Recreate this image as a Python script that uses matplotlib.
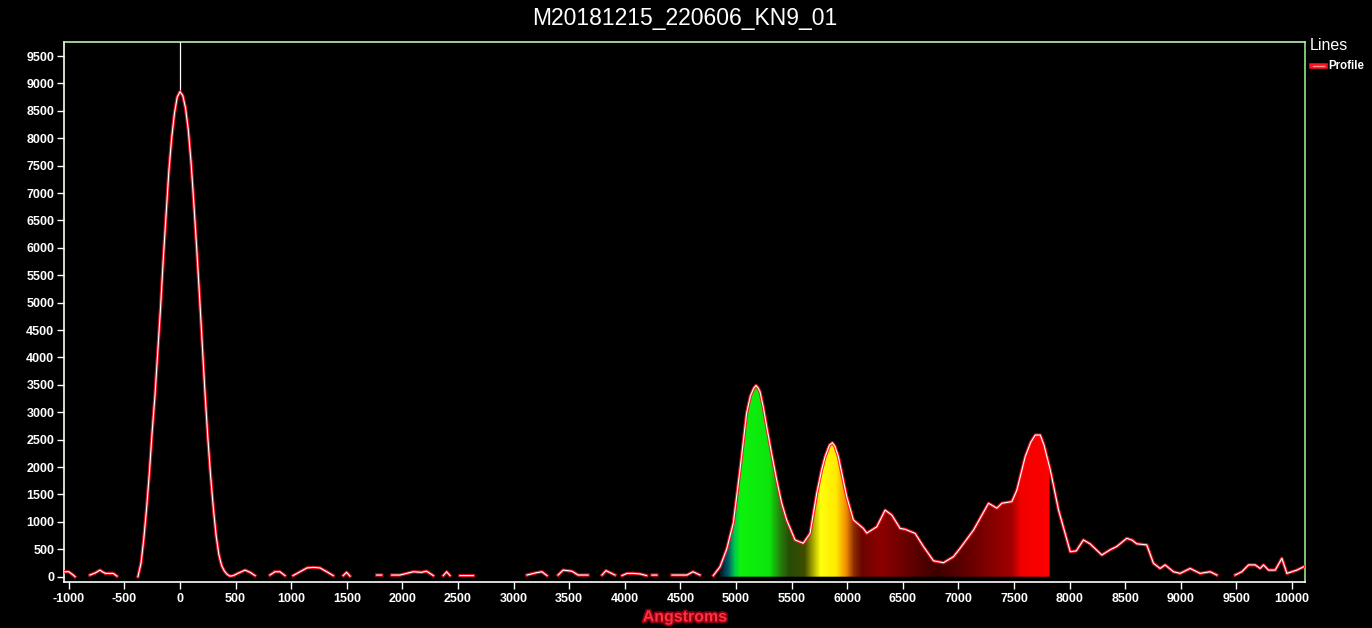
import numpy as np
import matplotlib
matplotlib.use("Agg")
import matplotlib.pyplot as plt
import matplotlib.patheffects as pe
from matplotlib.lines import Line2D

nan = np.nan

# ---- data ----
wavelength = [
    -1043, -1000, -960, -944, -900,
    -810, -760, -720, -690, -670, -600, -567, -470,
    -378, -350, -325, -300, -275, -250, -225, -200, -175, -150, -125, -100, -75, -50, -25,
    0, 25, 50, 75, 100, 125, 150, 175, 200, 225, 250, 275, 300, 325, 350, 375, 400, 425, 450,
    480, 530, 585, 630, 675, 740,
    809, 854, 899, 944, 980,
    1017, 1080, 1142, 1200, 1259, 1320, 1378, 1420,
    1468, 1498, 1529, 1650,
    1769, 1814, 1860,
    1904, 1978, 2040, 2098, 2173, 2218, 2278, 2320,
    2368, 2398, 2428, 2470,
    2518, 2638, 2900,
    3120, 3200, 3255, 3300, 3350,
    3400, 3445, 3525, 3580, 3670, 3730,
    3795, 3831, 3912, 3940,
    3975, 4020, 4080, 4137, 4196, 4220,
    4244, 4289, 4350,
    4424, 4559, 4613, 4676, 4740,
    4796, 4856, 4916, 4976, 5036, 5096, 5130, 5160, 5180, 5200, 5216, 5245, 5276, 5320,
    5366, 5410, 5456, 5531,
    5605, 5666, 5726, 5770, 5801, 5840, 5867, 5890, 5921, 5996, 6056, 6146, 6176, 6266,
    6341, 6401,
    6476, 6521, 6611, 6686, 6776, 6866, 6956, 7016, 7136, 7271, 7346, 7391, 7481, 7526,
    7601, 7650, 7691, 7736, 7770, 7826, 7901, 8006, 8060, 8124, 8184, 8290, 8364, 8424,
    8514, 8559,
    8604, 8694, 8754, 8814, 8859, 8934, 8994, 9084, 9174, 9264, 9324, 9400,
    9489, 9549, 9609, 9669, 9714, 9744, 9789, 9849, 9909, 9954, 10044, 10104,
]
intensity = [
    90, 90, 30, 0, nan,
    30, 70, 120, 80, 60, 60, 10, nan,
    0, 250, 700, 1250, 1900, 2650, 3300, 4100, 4900, 5800, 6600, 7400, 8000, 8450, 8750,
    8850, 8780, 8550, 8150, 7550, 6800, 6000, 5150, 4250, 3350, 2550, 1850, 1250, 750, 400, 200, 100, 40, 10,
    20, 70, 120, 80, 20, nan,
    30, 90, 90, 20, nan,
    20, 90, 160, 170, 160, 90, 20, nan,
    20, 80, 10, nan,
    30, 30, nan,
    30, 30, 60, 90, 80, 100, 20, nan,
    20, 90, 20, nan,
    20, 20, nan,
    30, 70, 90, 20, nan,
    30, 120, 100, 30, 30, nan,
    30, 110, 30, nan,
    20, 60, 60, 50, 20, nan,
    30, 30, nan,
    30, 30, 90, 30, nan,
    20, 180, 500, 980, 1950, 2990, 3300, 3440, 3490, 3440, 3375, 3100, 2740, 2250,
    1765, 1350, 1035, 670,
    610, 790, 1520, 1950, 2190, 2400, 2445, 2380, 2190, 1460, 1035, 880, 795, 910,
    1215, 1125,
    880, 865, 790, 550, 290, 255, 365, 520, 850, 1340, 1250, 1340, 1370, 1580,
    2190, 2450, 2585, 2585, 2400, 1950, 1215, 455, 470, 670, 600, 395, 490, 550,
    700, 670,
    600, 580, 245, 150, 215, 90, 60, 150, 60, 90, 30, nan,
    30, 90, 215, 215, 150, 215, 120, 120, 335, 60, 120, 180,
]

x_ticks = list(range(-1000, 10001, 500))
y_ticks = list(range(0, 9501, 500))
title = "M20181215_220606_KN9_01"
x_label = "Angstroms"
legend_title = "Lines"
series_name = "Profile"

# colour fill range and spectrum colour stops (style)
fill_start, fill_end = 4850, 7820
spectrum_stops = [
    (4850, (0.00, 0.05, 0.10)),
    (4930, (0.00, 0.35, 0.40)),
    (4990, (0.00, 0.80, 0.30)),
    (5040, (0.05, 0.95, 0.05)),
    (5300, (0.05, 0.90, 0.05)),
    (5400, (0.15, 0.50, 0.05)),
    (5480, (0.15, 0.30, 0.02)),
    (5620, (0.25, 0.30, 0.00)),
    (5700, (0.70, 0.70, 0.00)),
    (5760, (1.00, 1.00, 0.05)),
    (5900, (1.00, 0.92, 0.00)),
    (5990, (0.95, 0.55, 0.00)),
    (6060, (0.55, 0.18, 0.00)),
    (6130, (0.42, 0.02, 0.00)),
    (6300, (0.55, 0.00, 0.00)),
    (6550, (0.40, 0.00, 0.00)),
    (6800, (0.24, 0.00, 0.00)),
    (7000, (0.34, 0.00, 0.00)),
    (7250, (0.50, 0.00, 0.00)),
    (7480, (0.64, 0.00, 0.00)),
    (7560, (0.95, 0.00, 0.00)),
    (7820, (1.00, 0.00, 0.00)),
]

# ---- figure ----
fig = plt.figure(figsize=(13.72, 6.28), dpi=100, facecolor="black")
ax = fig.add_axes([64 / 1372, 1 - 582 / 628, (1305 - 64) / 1372, (582 - 42) / 628])
ax.set_facecolor("black")

x = np.array(wavelength, dtype=float)
y = np.array(intensity, dtype=float)

xmin, xmax = -1043, 10117
ymin, ymax = -97, 9757

# spectrum-coloured fill under the curve
valid = ~np.isnan(y)
xv, yv = x[valid], y[valid]
xs = np.linspace(fill_start, fill_end, 800)
ys = np.interp(xs, xv, yv)
poly = ax.fill_between(xs, 0, ys, facecolor="none", edgecolor="none")
sw = np.array([s[0] for s in spectrum_stops], dtype=float)
sc = np.array([s[1] for s in spectrum_stops], dtype=float)
cols = np.stack([np.interp(xs, sw, sc[:, k]) for k in range(3)], axis=1)
img = cols[np.newaxis, :, :]
im = ax.imshow(img, extent=(fill_start, fill_end, 0, 4000), aspect="auto",
               interpolation="bilinear", origin="lower", zorder=1)
im.set_clip_path(poly.get_paths()[0], transform=ax.transData)
ax.set_xlim(xmin, xmax)
ax.set_ylim(ymin, ymax)

# marker line from peak to top
ipk = int(np.nanargmax(y))
ax.plot([x[ipk], x[ipk]], [y[ipk], ymax], color="white", lw=0.9, zorder=3)

# glowing profile line
ax.plot(x, y, color="#ff1020", lw=2.4, alpha=0.85, zorder=4, solid_joinstyle="round")
ax.plot(x, y, color="white", lw=0.8, zorder=5)

# axes styling
ax.set_xticks(x_ticks)
ax.set_yticks(y_ticks)
ax.set_xticklabels([str(v) for v in x_ticks])
ax.set_yticklabels([str(v) for v in y_ticks])
ax.tick_params(axis="both", colors="white", direction="out", length=5, width=1,
               labelsize=9)
ax.tick_params(axis="x", pad=3)
ax.tick_params(axis="y", pad=2)
for lab in ax.get_xticklabels() + ax.get_yticklabels():
    lab.set_fontweight("bold")
    lab.set_family(["Liberation Sans", "DejaVu Sans"])
ax.spines["left"].set_color("#fffff0")
ax.spines["bottom"].set_color("white")
ax.spines["top"].set_color("#b8f0b0")
ax.spines["right"].set_color("#90e890")
for s in ax.spines.values():
    s.set_linewidth(1.2)

# title and labels
fig.text(685 / 1372, 1 - 18 / 628, title, color="white", ha="center", va="center",
         fontsize=16.5, family=["Liberation Sans", "DejaVu Sans"])
fig.text(685 / 1372, 1 - 617 / 628, x_label, color="#ff3040", ha="center", va="center",
         fontsize=11.5, fontweight="bold", family=["Liberation Sans", "DejaVu Sans"],
         path_effects=[pe.withStroke(linewidth=2.5, foreground="#8a0010")])

# legend outside on the right
fig.text(1310 / 1372, 1 - 46 / 628, legend_title, color="white", ha="left", va="center",
         fontsize=11.5, family=["Liberation Sans", "DejaVu Sans"])
fig.add_artist(Line2D([1312 / 1372, 1325 / 1372], [1 - 66 / 628, 1 - 66 / 628],
                      transform=fig.transFigure, color="#ff1020", lw=4))
fig.add_artist(Line2D([1313 / 1372, 1324 / 1372], [1 - 66 / 628, 1 - 66 / 628],
                      transform=fig.transFigure, color="#ff9090", lw=1))
fig.text(1328 / 1372, 1 - 66 / 628, series_name, color="white", ha="left", va="center",
         fontsize=8.3, fontweight="bold", family=["Liberation Sans", "DejaVu Sans"])

fig.savefig("out.png", dpi=100, facecolor="black")
